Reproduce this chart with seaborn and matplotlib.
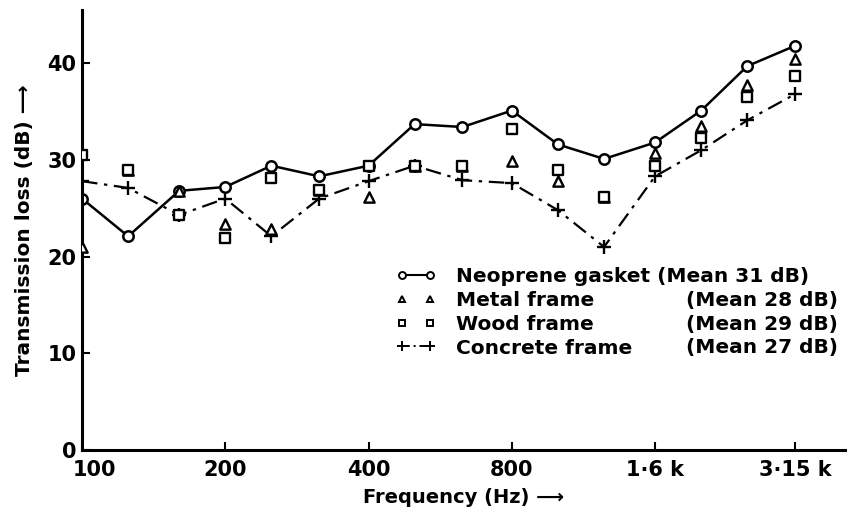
import matplotlib
matplotlib.use('Agg')
import matplotlib.pyplot as plt
import matplotlib.transforms as mtransforms
from matplotlib.lines import Line2D
import seaborn as sns

# third-octave band centre frequencies (Hz)
freq = [100, 125, 160, 200, 250, 315, 400, 500, 630, 800, 1000, 1250, 1600, 2000, 2500, 3150]

# transmission loss (dB)
neoprene = [26.0, 22.1, 26.8, 27.2, 29.4, 28.3, 29.4, 33.7, 33.4, 35.1, 31.6, 30.1, 31.8, 35.1, 39.7, 41.8]
metal = [21.0, 29.0, 26.8, 23.4, 22.9, 26.9, 26.2, 29.4, 29.4, 29.9, 27.8, 26.2, 30.7, 33.5, 37.7, 40.4]
wood = [30.5, 29.0, 24.3, 21.9, 28.1, 26.9, 29.4, 29.4, 29.4, 33.2, 29.0, 26.2, 29.4, 32.3, 36.5, 38.7]
concrete = [27.8, 27.1, 24.3, 26.0, 22.1, 26.0, 27.8, 29.4, 27.9, 27.6, 24.8, 21.0, 28.3, 31.0, 34.1, 36.8]

legend_labels = ['Neoprene gasket (Mean 31 dB)', 'Metal frame', 'Wood frame', 'Concrete frame']
legend_means = ['', '(Mean 28 dB)', '(Mean 29 dB)', '(Mean 27 dB)']

xtick_vals = [100, 200, 400, 800, 1600, 3150]
xtick_labels = ['100', '200', '400', '800', '1\u00b76 k', '3\u00b715 k']
ytick_vals = [0, 10, 20, 30, 40]

sns.set_style('ticks')
plt.rcParams['font.family'] = ['DejaVu Sans']
plt.rcParams['font.weight'] = 'bold'
for key in ['text.color', 'axes.labelcolor', 'xtick.color', 'ytick.color',
            'xtick.labelcolor', 'ytick.labelcolor']:
    plt.rcParams[key] = 'black'

fig = plt.figure(figsize=(8.51, 5.12), dpi=100)
ax = fig.add_axes([82 / 851, 62 / 512, 763 / 851, 440 / 512])

# concrete frame: dash-dot line with plus markers
sns.lineplot(x=freq, y=concrete, ax=ax, color='black', lw=1.6,
             linestyle=(0, (7, 3, 1.5, 3)),
             marker='+', markersize=10, markeredgewidth=1.7,
             markeredgecolor='black')
# neoprene gasket: solid line with open circles
sns.lineplot(x=freq, y=neoprene, ax=ax, color='black', lw=1.8,
             marker='o', markersize=7.5, markerfacecolor='white',
             markeredgecolor='black', markeredgewidth=1.8)
# metal and wood: markers only
sns.scatterplot(x=freq, y=metal, ax=ax, marker='^', s=55, facecolor='white',
                edgecolor='black', linewidth=1.7, zorder=3)
sns.scatterplot(x=freq, y=wood, ax=ax, marker='s', s=45, facecolor='white',
                edgecolor='black', linewidth=1.7, zorder=3)

ax.set_xscale('log')
ax.set_xlim(100, 4010)
ax.set_ylim(0, 45.5)
ax.set_xticks(xtick_vals)
ax.set_xticklabels(xtick_labels)
ax.minorticks_off()
ax.set_yticks(ytick_vals)
ax.tick_params(axis='both', direction='in', length=6, width=1.5,
               labelsize=15)
ax.tick_params(axis='x', pad=7)
ax.tick_params(axis='y', pad=4)
for lbl in ax.get_xticklabels() + ax.get_yticklabels():
    lbl.set_fontweight('bold')
# the "100" label sits a little right of the axis corner
first = ax.get_xticklabels()[0]
first.set_transform(first.get_transform() +
                    mtransforms.ScaledTranslation(12 / 100, 0, fig.dpi_scale_trans))

sns.despine(ax=ax)
for side in ['left', 'bottom']:
    ax.spines[side].set_linewidth(2.2)
    ax.spines[side].set_color('black')

ax.set_xlabel('Frequency (Hz) \u27f6', fontsize=14, fontweight='bold', labelpad=6)
ax.set_ylabel('Transmission loss (dB) \u27f6', fontsize=14.5, fontweight='bold', labelpad=10)

handles = [
    Line2D([], [], color='black', lw=1.5, marker='o', markersize=5,
           markerfacecolor='white', markeredgewidth=1.4),
    Line2D([], [], color='black', lw=0, marker='^', markersize=5,
           markerfacecolor='white', markeredgewidth=1.4),
    Line2D([], [], color='black', lw=0, marker='s', markersize=5,
           markerfacecolor='white', markeredgewidth=1.4),
    Line2D([], [], color='black', lw=1.4, linestyle=(0, (4, 2, 1, 2)),
           marker='+', markersize=7, markeredgewidth=1.4),
]
leg = fig.legend(handles, legend_labels, loc='upper left',
                 bbox_to_anchor=(396 / 851, 1 - 267 / 512), frameon=False,
                 numpoints=2, handlelength=2.0, handletextpad=1.0,
                 labelspacing=0.24, borderpad=0, borderaxespad=0,
                 prop={'size': 14.5, 'weight': 'bold'})

# mean values in their own column, on the legend rows
fig.canvas.draw()
inv = fig.transFigure.inverted()
for txt, mean in zip(leg.get_texts(), legend_means):
    if not mean:
        continue
    bb = txt.get_window_extent()
    yc = inv.transform((0, (bb.y0 + bb.y1) / 2))[1]
    fig.text(686 / 851, yc, mean, ha='left', va='center',
             fontsize=14.5, fontweight='bold')

fig.savefig('out.png', dpi=100)
